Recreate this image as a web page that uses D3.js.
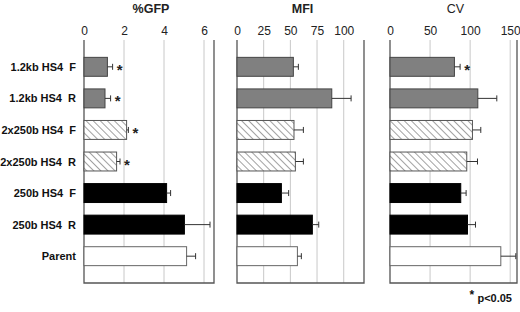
<!DOCTYPE html>
<html>
<head>
<meta charset="utf-8">
<script src="https://cdn.jsdelivr.net/npm/d3@7"></script>
<style>
  body { margin: 0; background: #fff; }
  svg { font-family: "Liberation Sans", Arial, sans-serif; }
  .title { font-size: 12.5px; fill: #222; }
  .tick-label { font-size: 12px; fill: #222; }
  .cat-label { font-weight: bold; font-size: 11px; fill: #111; }
</style>
</head>
<body>
<div id="chart"></div>
<script>
// row labels, top to bottom
const categories = ['1.2kb HS4  F', '1.2kb HS4  R', '2x250b HS4  F', '2x250b HS4  R', '250b HS4  F', '250b HS4  R', 'Parent'];
// fill style for each row
const styles = ['grey', 'grey', 'hatch', 'hatch', 'black', 'black', 'white'];

const gfpValues = [1.17, 1.05, 2.13, 1.63, 4.13, 5.02, 5.13];
const gfpErrors = [0.26, 0.28, 0.09, 0.17, 0.2, 1.28, 0.45];
const gfpStars = [true, true, true, true, false, false, false];

const mfiValues = [52.8, 88.8, 53.4, 54.7, 41.6, 70.6, 56.6];
const mfiErrors = [4.7, 18.1, 8.8, 7.5, 6.8, 6.0, 3.7];
const mfiStars = [false, false, false, false, false, false, false];

const cvValues = [80.4, 109.6, 102.9, 95.8, 88.3, 96.7, 138.3];
const cvErrors = [7.1, 23.7, 10.4, 13.4, 6.7, 10.0, 18.7];
const cvStars = [true, false, false, false, false, false, false];

const gfpTicks = [0, 2, 4, 6];
const mfiTicks = [0, 25, 50, 75, 100];
const cvTicks = [0, 50, 100, 150];

const width = 520, height = 312;
const plotTop = 40, plotBottom = 283;

const svg = d3.select('#chart').append('svg')
    .attr('width', width)
    .attr('height', height);

// diagonal hatch
const defs = svg.append('defs');
const pat = defs.append('pattern')
    .attr('id', 'hatch')
    .attr('patternUnits', 'userSpaceOnUse')
    .attr('width', 5)
    .attr('height', 5)
    .attr('patternTransform', 'rotate(-45)');
pat.append('rect').attr('width', 5).attr('height', 5).attr('fill', '#fff');
pat.append('line')
    .attr('x1', 0).attr('y1', 0).attr('x2', 0).attr('y2', 5)
    .attr('stroke', '#555').attr('stroke-width', 1.1);

const fills = { grey: '#808080', hatch: 'url(#hatch)', black: '#000', white: '#fff' };
const strokes = { grey: '#444', hatch: '#555', black: '#000', white: '#666' };

const yScale = d3.scaleBand()
    .domain(categories)
    .range([plotTop, plotBottom])
    .paddingInner(0.4)
    .paddingOuter(0.55);

const panels = [
    { title: '%GFP', bold: true, x0: 84, x1: 214, max: 6.5, ticks: gfpTicks, values: gfpValues, errors: gfpErrors, stars: gfpStars },
    { title: 'MFI', bold: true, x0: 237, x1: 364, max: 119, ticks: mfiTicks, values: mfiValues, errors: mfiErrors, stars: mfiStars },
    { title: 'CV', bold: false, x0: 390, x1: 517, max: 158.5, ticks: cvTicks, values: cvValues, errors: cvErrors, stars: cvStars }
];

panels.forEach(p => {
    const x = d3.scaleLinear().domain([0, p.max]).range([p.x0, p.x1]);
    const g = svg.append('g');

    g.append('text')
        .attr('class', 'title')
        .attr('x', (p.x0 + p.x1) / 2 + 2)
        .attr('y', 13)
        .attr('text-anchor', 'middle')
        .attr('font-weight', p.bold ? 'bold' : 'normal')
        .text(p.title);

    // gridlines
    g.selectAll('.grid')
        .data(p.ticks.filter(t => t > 0))
        .join('line')
        .attr('x1', d => x(d)).attr('x2', d => x(d))
        .attr('y1', plotTop).attr('y2', plotBottom)
        .attr('stroke', '#c8c8c8')
        .attr('stroke-width', 1);

    // top axis labels only
    const axis = d3.axisTop(x).tickValues(p.ticks).tickFormat(d3.format('d')).tickSize(0).tickPadding(0);
    const ax = g.append('g')
        .attr('transform', `translate(0,${plotTop - 5})`)
        .call(axis);
    ax.select('.domain').remove();
    ax.selectAll('text')
        .attr('class', 'tick-label')
        .attr('font-family', null)
        .attr('font-size', null)
        .attr('fill', null);
    ax.attr('font-family', null).attr('font-size', null);

    // frame: left, bottom, right
    g.append('path')
        .attr('d', `M${p.x0},${plotTop}V${plotBottom}H${p.x1}V${plotTop}`)
        .attr('fill', 'none')
        .attr('stroke', '#555')
        .attr('stroke-width', 1.3);

    const rows = categories.map((c, i) => ({ c, i, v: p.values[i], e: p.errors[i], s: p.stars[i], style: styles[i] }));

    g.selectAll('.bar')
        .data(rows)
        .join('rect')
        .attr('x', x(0))
        .attr('y', d => yScale(d.c))
        .attr('width', d => x(d.v) - x(0))
        .attr('height', yScale.bandwidth())
        .attr('fill', d => fills[d.style])
        .attr('stroke', d => strokes[d.style])
        .attr('stroke-width', 1);

    const err = g.selectAll('.err')
        .data(rows)
        .join('g');
    err.append('line')
        .attr('x1', d => x(d.v)).attr('x2', d => x(d.v + d.e))
        .attr('y1', d => yScale(d.c) + yScale.bandwidth() / 2)
        .attr('y2', d => yScale(d.c) + yScale.bandwidth() / 2)
        .attr('stroke', '#333');
    err.append('line')
        .attr('x1', d => x(d.v + d.e)).attr('x2', d => x(d.v + d.e))
        .attr('y1', d => yScale(d.c) + yScale.bandwidth() / 2 - 3)
        .attr('y2', d => yScale(d.c) + yScale.bandwidth() / 2 + 3)
        .attr('stroke', '#333');

    g.selectAll('.star')
        .data(rows.filter(d => d.s))
        .join('text')
        .attr('x', d => x(d.v + d.e) + 7)
        .attr('y', d => yScale(d.c) + yScale.bandwidth() / 2 + 8)
        .attr('text-anchor', 'middle')
        .attr('font-size', 15)
        .attr('font-weight', 'bold')
        .attr('fill', '#222')
        .text('*');
});

// row labels
svg.selectAll('.cat-label')
    .data(categories)
    .join('text')
    .attr('class', 'cat-label')
    .attr('x', 76)
    .attr('y', d => yScale(d) + yScale.bandwidth() / 2 + 4)
    .attr('text-anchor', 'end')
    .style('white-space', 'pre')
    .text(d => d);

// significance note
const note = svg.append('text')
    .attr('x', 512)
    .attr('y', 302)
    .attr('text-anchor', 'end')
    .attr('font-weight', 'bold')
    .attr('font-size', 11)
    .attr('fill', '#111');
note.append('tspan').attr('font-size', 12).attr('dy', -3).text('* ');
note.append('tspan').attr('dy', 3).text('p<0.05');
</script>
</body>
</html>
